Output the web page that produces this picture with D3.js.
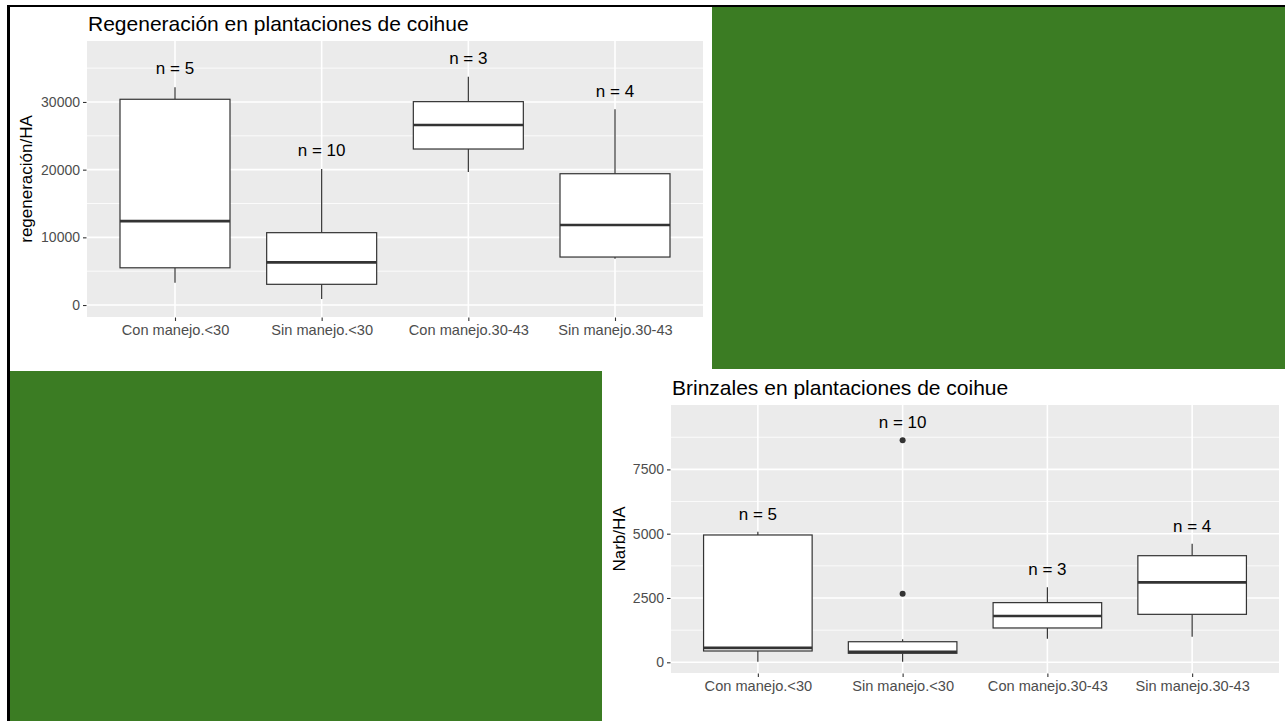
<!DOCTYPE html>
<html>
<head>
<meta charset="utf-8">
<script src="https://cdn.jsdelivr.net/npm/d3@7"></script>
<style>
  html, body { margin: 0; padding: 0; background: #ffffff; }
  svg { display: block; }
  text { font-family: "Liberation Sans", Arial, sans-serif; }
</style>
</head>
<body>
<svg id="page" width="1285" height="721"></svg>
<script>
// Categories shared by both boxplots
const categories = ["Con manejo.<30", "Sin manejo.<30", "Con manejo.30-43", "Sin manejo.30-43"];

// Regeneración por hectárea: five-number summaries per group
const regenLow    = [3300, 890, 19650, 6850];
const regenQ1     = [5500, 3060, 23050, 7090];
const regenMedian = [12400, 6310, 26600, 11820];
const regenQ3     = [30400, 10690, 30050, 19400];
const regenHigh   = [32170, 20100, 33740, 28920];
const regenN      = [5, 10, 3, 4];
const regenNLabelY = [34980, 22900, 36500, 31620];
const regenTicks  = [0, 10000, 20000, 30000];
const regenMinor  = [5000, 15000, 25000, 35000];
const regenDomain = [-1770, 39010];

// Brinzales (Narb/HA): five-number summaries per group plus outliers
const brinLow    = [20, 20, 920, 995];
const brinQ1     = [440, 350, 1335, 1865];
const brinMedian = [560, 410, 1800, 3110];
const brinQ3     = [4950, 800, 2320, 4145];
const brinHigh   = [5080, 895, 2915, 4610];
const brinOutliers = [[], [2670, 8630], [], []];
const brinN      = [5, 10, 3, 4];
const brinNLabelY = [5790, 9355, 3615, 5310];
const brinTicks  = [0, 2500, 5000, 7500];
const brinMinor  = [1250, 3750, 6250, 8750];
const brinDomain = [-416, 10004];

const svg = d3.select("#page");
const GREEN = "#3b7c23";

// Page framing: dark rule top and left, green blocks
svg.append("rect").attr("x", 712).attr("y", 7).attr("width", 573).attr("height", 362).attr("fill", GREEN);
svg.append("rect").attr("x", 10).attr("y", 371).attr("width", 592).attr("height", 350).attr("fill", GREEN);
svg.append("rect").attr("x", 7).attr("y", 5).attr("width", 1278).attr("height", 2).attr("fill", "#000");
svg.append("rect").attr("x", 7).attr("y", 5).attr("width", 3).attr("height", 716).attr("fill", "#000");

function boxplot(cfg) {
  const g = svg.append("g");
  const { left, top, right, bottom } = cfg.panel;

  const x = d3.scalePoint().domain(categories).range([left, right]).padding(0.6);
  const y = d3.scaleLinear().domain(cfg.domain).range([bottom, top]);
  const boxW = x.step() * 0.75;

  // panel background
  g.append("rect").attr("x", left).attr("y", top)
    .attr("width", right - left).attr("height", bottom - top).attr("fill", "#ebebeb");

  // minor grid
  g.selectAll(".minor").data(cfg.minor.filter(v => y(v) > top && y(v) < bottom)).join("line")
    .attr("x1", left).attr("x2", right).attr("y1", d => y(d)).attr("y2", d => y(d))
    .attr("stroke", "#fff").attr("stroke-width", 0.8);
  // major grid
  g.selectAll(".hmajor").data(cfg.ticks).join("line")
    .attr("x1", left).attr("x2", right).attr("y1", d => y(d)).attr("y2", d => y(d))
    .attr("stroke", "#fff").attr("stroke-width", 1.6);
  g.selectAll(".vmajor").data(categories).join("line")
    .attr("x1", d => x(d)).attr("x2", d => x(d)).attr("y1", top).attr("y2", bottom)
    .attr("stroke", "#fff").attr("stroke-width", 1.6);

  // axes
  const yAxis = d3.axisLeft(y).tickValues(cfg.ticks).tickSize(3.5).tickPadding(3).tickFormat(d3.format("d"));
  const ya = g.append("g").attr("transform", `translate(${left - 0.5},0)`).call(yAxis);
  ya.select(".domain").remove();
  ya.selectAll("line").attr("stroke", "#333").attr("stroke-width", 1.1);
  ya.selectAll("text").attr("fill", "#4d4d4d").style("font-size", "14px")
    .style("font-family", "'Liberation Sans', Arial, sans-serif");

  const xAxis = d3.axisBottom(x).tickSize(3.5).tickPadding(4);
  const xa = g.append("g").attr("transform", `translate(0,${bottom + 0.5})`).call(xAxis);
  xa.select(".domain").remove();
  xa.selectAll("line").attr("stroke", "#333").attr("stroke-width", 1.1);
  xa.selectAll("text").attr("fill", "#4d4d4d").style("font-size", "14.6px")
    .style("font-family", "'Liberation Sans', Arial, sans-serif");

  const rows = categories.map((c, i) => ({
    c, lo: cfg.low[i], q1: cfg.q1[i], med: cfg.median[i], q3: cfg.q3[i], hi: cfg.high[i],
    out: cfg.outliers ? cfg.outliers[i] : [], n: cfg.n[i], ny: cfg.nLabelY[i]
  }));

  const box = g.selectAll(".box").data(rows).join("g");
  // whiskers
  box.append("line").attr("x1", d => x(d.c)).attr("x2", d => x(d.c))
    .attr("y1", d => y(d.q3)).attr("y2", d => y(d.hi))
    .attr("stroke", "#333").attr("stroke-width", 1.2);
  box.append("line").attr("x1", d => x(d.c)).attr("x2", d => x(d.c))
    .attr("y1", d => y(d.q1)).attr("y2", d => y(d.lo))
    .attr("stroke", "#333").attr("stroke-width", 1.2);
  // box
  box.append("rect").attr("x", d => x(d.c) - boxW / 2).attr("y", d => y(d.q3))
    .attr("width", boxW).attr("height", d => y(d.q1) - y(d.q3))
    .attr("fill", "#fff").attr("stroke", "#333").attr("stroke-width", 1.2);
  // median
  box.append("line").attr("x1", d => x(d.c) - boxW / 2).attr("x2", d => x(d.c) + boxW / 2)
    .attr("y1", d => y(d.med)).attr("y2", d => y(d.med))
    .attr("stroke", "#333").attr("stroke-width", 2.7);
  // outliers
  box.selectAll("circle").data(d => d.out.map(v => ({ c: d.c, v }))).join("circle")
    .attr("cx", d => x(d.c)).attr("cy", d => y(d.v)).attr("r", 3).attr("fill", "#333");
  // sample sizes
  box.append("text").attr("x", d => x(d.c)).attr("y", d => y(d.ny)).attr("dy", "0.36em")
    .attr("text-anchor", "middle").style("font-size", "17px").attr("fill", "#000")
    .text(d => `n = ${d.n}`);

  // titles
  g.append("text").attr("x", left + 1).attr("y", cfg.titleY)
    .style("font-size", "21px").attr("fill", "#000").text(cfg.title);
  g.append("text").attr("transform", `translate(${cfg.yTitleX},${(top + bottom) / 2}) rotate(-90)`)
    .attr("text-anchor", "middle").attr("dy", "0.35em").style("font-size", "17px").attr("fill", "#000")
    .text(cfg.yTitle);
}

boxplot({
  panel: { left: 87, top: 41, right: 703, bottom: 317 },
  domain: regenDomain, ticks: regenTicks, minor: regenMinor,
  low: regenLow, q1: regenQ1, median: regenMedian, q3: regenQ3, high: regenHigh,
  n: regenN, nLabelY: regenNLabelY,
  title: "Regeneración en plantaciones de coihue", titleY: 31,
  yTitle: "regeneración/HA", yTitleX: 26
});

boxplot({
  panel: { left: 671, top: 405, right: 1279, bottom: 673 },
  domain: brinDomain, ticks: brinTicks, minor: brinMinor,
  low: brinLow, q1: brinQ1, median: brinMedian, q3: brinQ3, high: brinHigh,
  outliers: brinOutliers, n: brinN, nLabelY: brinNLabelY,
  title: "Brinzales en plantaciones de coihue", titleY: 395,
  yTitle: "Narb/HA", yTitleX: 619
});
</script>
</body>
</html>
